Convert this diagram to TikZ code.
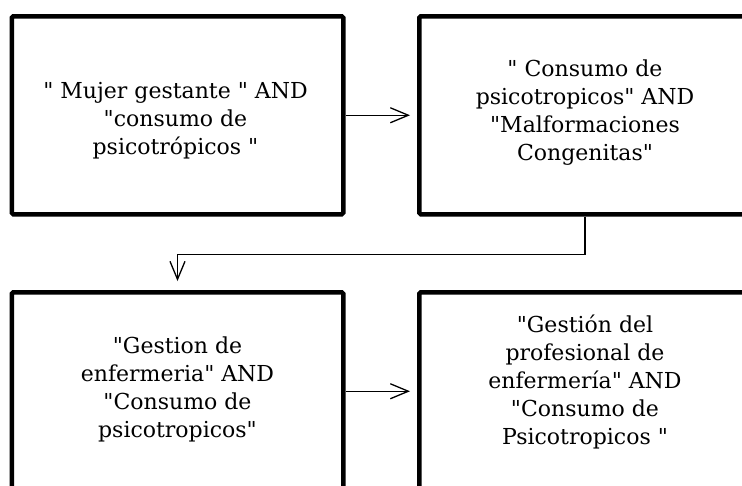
\documentclass[tikz,border=0pt]{standalone}
\usepackage{fontspec}
\setmainfont{DejaVu Serif}[Ligatures=TeXOff]
\usetikzlibrary{arrows.meta,calc}
\begin{document}
\begin{tikzpicture}[x=1pt,y=-1pt,
  box/.style={draw,line width=4.5pt,rounded corners=1.5pt,minimum width=331.5pt,minimum height=198pt,inner sep=0pt,anchor=north west},
  txt/.style={align=center,font=\fontsize{22}{28}\selectfont,inner sep=0pt},
  conn/.style={line width=1.3pt,-{Straight Barb[length=18pt,width=15pt,line width=1.3pt]}}]
\useasboundingbox (0,0) rectangle (742,485);
\clip (0,0) rectangle (742,485);
\node[box] (b1) at (9.5,14) {};
\node[box] (b2) at (417,14) {};
\node[box] (b3) at (9.5,290) {};
\node[box] (b4) at (417,290) {};
\node[txt] (t1) at ($(b1.center)+(-2,5)$) {" Mujer gestante " AND\\"consumo de\\psicotrópicos "};
\node[txt] (t2) at ($(b2.center)+(0,-3)$) {" Consumo de\\psicotropicos" AND\\"Malformaciones\\Congenitas"};
\node[txt] (t3) at ($(b3.center)+(0,-2)$) {"Gestion de\\enfermeria" AND\\"Consumo de\\psicotropicos"};
\node[txt] (t4) at ($(b4.center)+(0,-9)$) {"Gestión del\\profesional de\\enfermería" AND\\"Consumo de\\Psicotropicos "};
\draw[conn,shorten >=7pt] (b1.east) -- (b2.west);
\draw[conn,shorten >=7pt] (b3.east) -- (b4.west);
\draw[conn,shorten >=9pt] (b2.south) -- ++(0,38) -| (b3.north);
\end{tikzpicture}
\end{document}
